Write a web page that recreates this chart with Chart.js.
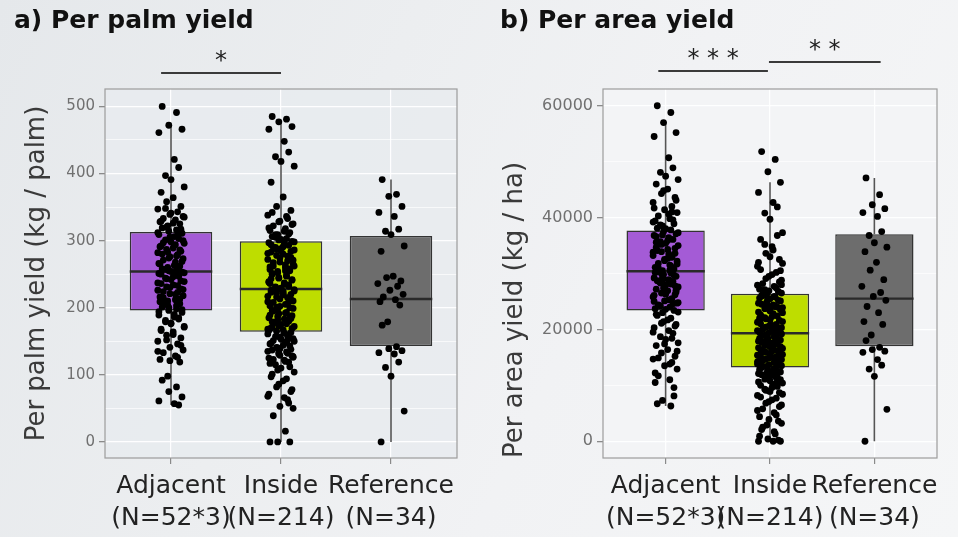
<!DOCTYPE html>
<html>
<head>
<meta charset="utf-8">
<script src="https://cdn.jsdelivr.net/npm/chart.js@4.4.1/dist/chart.umd.min.js"></script>
<style>
  html, body { margin: 0; padding: 0; }
  body {
    width: 958px; height: 537px; overflow: hidden; position: relative;
    background: linear-gradient(115deg, #e5e8eb 0%, #eceef0 35%, #f1f2f4 60%, #f5f6f7 100%);
  }
  canvas { position: absolute; top: 0; }
  #palmCanvas { left: 0; }
  #areaCanvas { left: 480px; }
</style>
</head>
<body>
<canvas id="palmCanvas" width="480" height="537"></canvas>
<canvas id="areaCanvas" width="478" height="537"></canvas>
<script>
const GROUPS = ["Adjacent", "Inside", "Reference"];
const GROUP_N = ["(N=52*3)", "(N=214)", "(N=34)"];
const GROUP_COLORS = ["#a45bd6", "#bedd00", "#6d6d6d"];

// a) per palm yield (kg / palm)
const PALM_TICKS = [0, 100, 200, 300, 400, 500];
const PALM_MINOR = [50, 150, 250, 350, 450];
const PALM_LOWER = [55, 0, 0];
const PALM_Q1 = [196, 164, 143];
const PALM_MEDIAN = [254, 228, 213];
const PALM_Q3 = [313, 299, 307];
const PALM_UPPER = [470, 476, 391];
const PALM_ADJACENT = [500, 491, 472, 466, 461, 421, 409, 397, 391, 380, 372, 364, 358, 351, 347,
  343, 339, 336, 333, 331, 328, 325, 322, 319, 316, 314, 311, 309, 306, 303, 301, 298, 296, 292,
  289, 287, 284, 282, 279, 276, 273, 271, 268, 265, 262, 260, 258, 256, 255, 253, 251, 249, 247,
  244, 242, 239, 236, 234, 231, 228, 226, 223, 221, 218, 215, 212, 209, 206, 204, 201, 198, 196,
  193, 189, 186, 183, 179, 176, 172, 168, 164, 159, 155, 150, 146, 141, 137, 133, 128, 123, 119,
  98, 92, 82, 75, 67, 61, 57, 55,
  348, 341, 335, 329, 326, 320, 317, 312, 308, 305, 300, 297, 294, 291, 286, 283, 280, 277, 274,
  269, 266, 263, 259, 257, 254, 252, 250, 246, 243, 240, 237, 233, 230, 227, 224, 220, 216, 213,
  210, 207, 203, 200, 197, 194, 190, 185, 181, 177, 171, 166, 160, 152, 144, 135, 126, 121];
const PALM_INSIDE = [485, 481, 477, 470, 466, 448, 432, 425, 418, 411, 387, 365, 351, 345, 338,
  333, 329, 325, 322, 318, 315, 312, 309, 306, 303, 301, 299, 297, 295, 293, 290, 288, 286, 283,
  280, 278, 275, 272, 270, 268, 265, 262, 260, 257, 255, 252, 250, 247, 244, 242, 239, 237, 234,
  231, 229, 227, 226, 224, 222, 220, 217, 215, 213, 210, 208, 205, 203, 200, 198, 196, 193, 191,
  188, 185, 183, 180, 178, 175, 172, 170, 167, 165, 163, 161, 158, 156, 154, 151, 148, 146, 143,
  140, 137, 134, 131, 128, 125, 122, 119, 115, 110, 104, 97, 91, 82, 75, 68, 63, 53, 50, 39, 16,
  0, 0, 0,
  342, 336, 328, 324, 319, 314, 310, 305, 302, 298, 294, 291, 287, 284, 281, 277, 274, 271, 267,
  264, 261, 258, 254, 251, 248, 245, 241, 238, 235, 232, 230, 228, 225, 223, 219, 216, 212, 209,
  206, 202, 199, 195, 192, 189, 186, 182, 179, 176, 173, 169, 166, 162, 160, 157, 153, 150, 147,
  144, 141, 138, 135, 132, 129, 126, 123, 120, 117, 112, 107, 101, 94, 86, 78, 71, 66, 58, 309,
  285, 262, 243, 221, 201, 184, 168, 152, 139, 127, 290, 255, 236, 211, 187, 171, 149, 133];
const PALM_REFERENCE = [391, 369, 366, 351, 342, 336, 317, 314, 309, 292, 284, 247, 245, 240,
  236, 232, 226, 220, 216, 212, 209, 204, 179, 174, 142, 139, 136, 133, 131, 119, 111, 98, 46, 0];

// b) per area yield (kg / ha)
const AREA_TICKS = [0, 20000, 40000, 60000];
const AREA_MINOR = [10000, 30000, 50000];
const AREA_LOWER = [6300, 0, 0];
const AREA_Q1 = [23400, 13200, 17000];
const AREA_MEDIAN = [30400, 19300, 25500];
const AREA_Q3 = [37700, 26400, 37000];
const AREA_UPPER = [57000, 46300, 47100];
const AREA_ADJACENT = [60000, 58800, 57000, 55200, 54500, 50700, 48900, 48100, 47400, 46800,
  46000, 45100, 44300, 43600, 42700, 42000, 41400, 40900, 40300, 39800, 39400, 38900, 38500,
  38100, 37800, 37500, 37100, 36800, 36400, 36100, 35700, 35400, 35000, 34700, 34300, 33900,
  33600, 33200, 32900, 32500, 32200, 31800, 31500, 31100, 30800, 30500, 30300, 30100, 29800,
  29500, 29200, 28900, 28600, 28300, 27900, 27600, 27200, 26900, 26500, 26200, 25800, 25500,
  25100, 24700, 24400, 24000, 23700, 23400, 23000, 22500, 22000, 21400, 20900, 20300, 19800,
  19300, 18700, 18200, 17600, 17100, 16400, 15800, 15200, 14700, 14100, 13500, 12900, 11700,
  11000, 10500, 8100, 7300, 6700, 6300,
  44800, 43100, 41700, 40600, 39600, 38700, 38000, 37300, 36600, 35900, 35200, 34500, 33800,
  33000, 32300, 31700, 31000, 30600, 30200, 29700, 29300, 28700, 28100, 27400, 26700, 26100,
  25300, 24600, 24200, 23600, 23100, 22700, 21700, 21100, 20600, 19500, 18400, 17400, 16100,
  14900, 13800, 12200, 9600, 36900, 34100, 31300, 29000, 27000, 25000, 33500, 30900, 28400,
  26300, 24800, 35600, 32700, 30000, 27800, 39200, 41000];
const AREA_INSIDE = [51800, 50400, 48200, 46300, 44500, 42700, 41900, 40800, 39700, 37300,
  36100, 34800, 33600, 32500, 31300, 30200, 29500, 28800, 28200, 27700, 27200, 26800, 26400,
  26100, 25800, 25400, 25100, 24700, 24400, 24000, 23700, 23300, 23000, 22600, 22300, 21900,
  21600, 21300, 20900, 20600, 20300, 20000, 19700, 19500, 19300, 19100, 18900, 18600, 18400,
  18100, 17900, 17600, 17400, 17100, 16900, 16600, 16400, 16100, 15900, 15600, 15400, 15100,
  14900, 14600, 14400, 14100, 13900, 13600, 13400, 13200, 12900, 12700, 12400, 12100, 11800,
  11500, 11100, 10800, 10400, 10000, 9600, 9100, 8700, 8200, 7700, 7100, 6500, 5800, 5100,
  4400, 3600, 2900, 2100, 1300, 400, 0, 0, 0,
  36800, 35200, 33000, 31800, 30700, 29800, 29100, 28500, 27900, 27400, 26900, 26500, 26200,
  25900, 25600, 25200, 24900, 24500, 24200, 23800, 23500, 23100, 22800, 22400, 22100, 21700,
  21400, 21000, 20700, 20400, 20100, 19800, 19600, 19400, 19200, 18900, 18700, 18400, 18200,
  17900, 17700, 17400, 17200, 16900, 16700, 16500, 16200, 16000, 15700, 15500, 15200, 15000,
  14700, 14500, 14200, 14000, 13700, 13500, 13300, 13000, 12800, 12500, 12200, 11900, 11600,
  11300, 11000, 10600, 10200, 9800, 9300, 8900, 8400, 7900, 7400, 6800, 6200, 5500, 4700, 3900,
  3200, 2500, 1700, 900, 200, 24300, 22200, 20200, 18300, 16300, 14300, 12600, 10700, 27100,
  25500, 23900, 21800, 19900, 17800, 15800, 13800, 11400, 9000, 28000, 26000, 24100, 22000,
  20000, 18000, 16100, 14100, 12000, 30500, 32000, 34200];
const AREA_REFERENCE = [47100, 44100, 42300, 41600, 40900, 40200, 37500, 36800, 35500, 34700,
  33900, 32000, 30600, 28900, 27700, 26600, 25900, 25200, 24100, 23000, 21400, 20900, 19000,
  18000, 16800, 16400, 16100, 15900, 14600, 13600, 12900, 11600, 5700, 0];

// hand-set horizontal jitter, in category units
const JITTER = [-0.08, 0.05, -0.02, 0.10, -0.11, 0.03, 0.07, -0.05, 0.0, 0.12, -0.09, 0.02,
  -0.04, 0.09, -0.12, 0.06, -0.01, 0.11, -0.07, 0.04, -0.10, 0.08, -0.03];

function jittered(values, group) {
  return values.map((v, k) => ({ x: group + JITTER[k % JITTER.length], y: v }));
}

const boxPlugin = {
  id: "boxWhiskers",
  beforeDraw(chart, args, opts) {
    const { ctx, chartArea: a } = chart;
    ctx.save();
    ctx.fillStyle = opts.panel;
    ctx.fillRect(a.left, a.top, a.width, a.height);
    ctx.restore();
  },
  afterDatasetDraw(chart, args, opts) {
    if (args.meta.type !== "bar") return;
    const { ctx } = chart;
    const y = chart.scales.y;
    ctx.save();
    args.meta.data.forEach((bar, i) => {
      const x = bar.x;
      const half = bar.width / 2;
      ctx.strokeStyle = "#555";
      ctx.lineWidth = 1.6;
      ctx.beginPath();
      ctx.moveTo(x, y.getPixelForValue(opts.q3[i]));
      ctx.lineTo(x, y.getPixelForValue(opts.upper[i]));
      ctx.moveTo(x, y.getPixelForValue(opts.q1[i]));
      ctx.lineTo(x, y.getPixelForValue(opts.lower[i]));
      ctx.stroke();
      ctx.strokeStyle = "#2a2a2a";
      ctx.lineWidth = 2.4;
      ctx.beginPath();
      const my = y.getPixelForValue(opts.median[i]);
      ctx.moveTo(x - half, my);
      ctx.lineTo(x + half, my);
      ctx.stroke();
    });
    ctx.restore();
  },
  afterDraw(chart, args, opts) {
    const { ctx, chartArea: a } = chart;
    const x = chart.scales.x;
    ctx.save();
    ctx.strokeStyle = "#9c9c9c";
    ctx.lineWidth = 1.2;
    ctx.strokeRect(a.left, a.top, a.width, a.height);
    opts.signif.forEach((s) => {
      const x1 = x.getPixelForValue(s.from);
      const x2 = x.getPixelForValue(s.to);
      const ly = a.top - s.rise;
      ctx.strokeStyle = "#3a3a3a";
      ctx.lineWidth = 1.8;
      ctx.beginPath();
      ctx.moveTo(x1, ly);
      ctx.lineTo(x2, ly);
      ctx.stroke();
      ctx.fillStyle = "#222";
      ctx.font = "24px 'DejaVu Sans'";
      ctx.textAlign = "center";
      ctx.textBaseline = "middle";
      ctx.fillText(s.label, (x1 + x2) / 2, ly - 11);
    });
    ctx.restore();
  },
};

function renderBoxPlot(canvas, cfg) {
  const isMajor = (v) => cfg.ticks.includes(v);
  return new Chart(canvas, {
    type: "bar",
    data: {
      datasets: [
        {
          type: "scatter",
          data: [0, 1, 2].flatMap((g) => jittered(cfg.points[g], g)),
          backgroundColor: "#000",
          borderWidth: 0,
          pointRadius: 3.4,
          order: 0,
        },
        {
          type: "bar",
          data: GROUPS.map((_, i) => ({ x: i, y: [cfg.q1[i], cfg.q3[i]] })),
          backgroundColor: GROUP_COLORS,
          borderColor: "#333",
          borderWidth: 1.5,
          borderSkipped: false,
          categoryPercentage: 1,
          barPercentage: 0.75,
          grouped: false,
          order: 1,
        },
      ],
    },
    options: {
      responsive: false,
      animation: false,
      devicePixelRatio: 1,
      layout: { padding: { left: cfg.padLeft, right: cfg.padRight, top: 0, bottom: 0 } },
      plugins: {
        legend: { display: false },
        tooltip: { enabled: false },
        title: {
          display: true,
          text: cfg.title,
          align: "start",
          color: "#111",
          font: { family: "DejaVu Sans", size: 25, weight: "bold", lineHeight: 1.2 },
          padding: { top: 6, bottom: 53 },
        },
        boxWhiskers: {
          panel: cfg.panel,
          lower: cfg.lower, q1: cfg.q1, median: cfg.median, q3: cfg.q3, upper: cfg.upper,
          signif: cfg.signif,
        },
      },
      scales: {
        x: {
          type: "linear",
          offset: false,
          min: -0.6,
          max: 2.6,
          afterBuildTicks: (s) => { s.ticks = GROUPS.map((_, i) => ({ value: i })); },
          afterFit: (s) => { s.height = 79; },
          border: { display: false },
          grid: {
            offset: false,
            color: "rgba(255,255,255,0.95)",
            lineWidth: 1.2,
            tickColor: "#8a8a8a",
            tickLength: 6,
          },
          ticks: {
            callback: (v) => [GROUPS[v], GROUP_N[v]],
            color: "#222",
            font: { family: "DejaVu Sans", size: 25, lineHeight: 1.28 },
            maxRotation: 0,
            autoSkip: false,
            padding: 6,
          },
        },
        y: {
          min: cfg.yMin,
          max: cfg.yMax,
          afterBuildTicks: (s) => {
            s.ticks = cfg.ticks.concat(cfg.minor).sort((p, q) => p - q).map((v) => ({ value: v }));
          },
          afterFit: (s) => { s.width = cfg.yWidth; },
          border: { display: false },
          grid: {
            color: "rgba(255,255,255,0.95)",
            lineWidth: (c) => (isMajor(c.tick.value) ? 1.3 : 0.7),
            tickColor: (c) => (isMajor(c.tick.value) ? "#8a8a8a" : "rgba(0,0,0,0)"),
            tickLength: 6,
          },
          ticks: {
            callback: (v) => (isMajor(v) ? String(v) : ""),
            color: "#707070",
            font: { family: "DejaVu Sans", size: cfg.tickSize },
            padding: 4,
          },
          title: {
            display: true,
            text: cfg.yTitle,
            align: cfg.yTitleAlign,
            color: "#3a3a3a",
            font: { family: "DejaVu Sans", size: 26, lineHeight: 1.2 },
            padding: { top: cfg.yTitlePad, bottom: 0 },
          },
        },
      },
    },
    plugins: [boxPlugin],
  });
}

renderBoxPlot(document.getElementById("palmCanvas"), {
  title: "a) Per palm yield",
  yTitle: "Per palm yield (kg / palm)",
  yTitleAlign: "center",
  points: [PALM_ADJACENT, PALM_INSIDE, PALM_REFERENCE],
  lower: PALM_LOWER, q1: PALM_Q1, median: PALM_MEDIAN, q3: PALM_Q3, upper: PALM_UPPER,
  ticks: PALM_TICKS, minor: PALM_MINOR,
  yMin: -24, yMax: 526,
  padLeft: 14, padRight: 23, yWidth: 91, yTitlePad: 7.4, tickSize: 15,
  panel: "rgba(232,235,238,0.85)",
  signif: [{ from: -0.09, to: 1.0, rise: 16, label: "*" }],
});

renderBoxPlot(document.getElementById("areaCanvas"), {
  title: "b) Per area yield",
  yTitle: "Per area yield (kg / ha)",
  yTitleAlign: "start",
  points: [AREA_ADJACENT, AREA_INSIDE, AREA_REFERENCE],
  lower: AREA_LOWER, q1: AREA_Q1, median: AREA_MEDIAN, q3: AREA_Q3, upper: AREA_UPPER,
  ticks: AREA_TICKS, minor: AREA_MINOR,
  yMin: -3000, yMax: 63000,
  padLeft: 20, padRight: 21, yWidth: 103, yTitlePad: 0, tickSize: 16,
  panel: "rgba(243,244,246,0.9)",
  signif: [
    { from: -0.07, to: 0.98, rise: 18, label: "* * *" },
    { from: 0.99, to: 2.06, rise: 27, label: "* *" },
  ],
});
</script>
</body>
</html>
